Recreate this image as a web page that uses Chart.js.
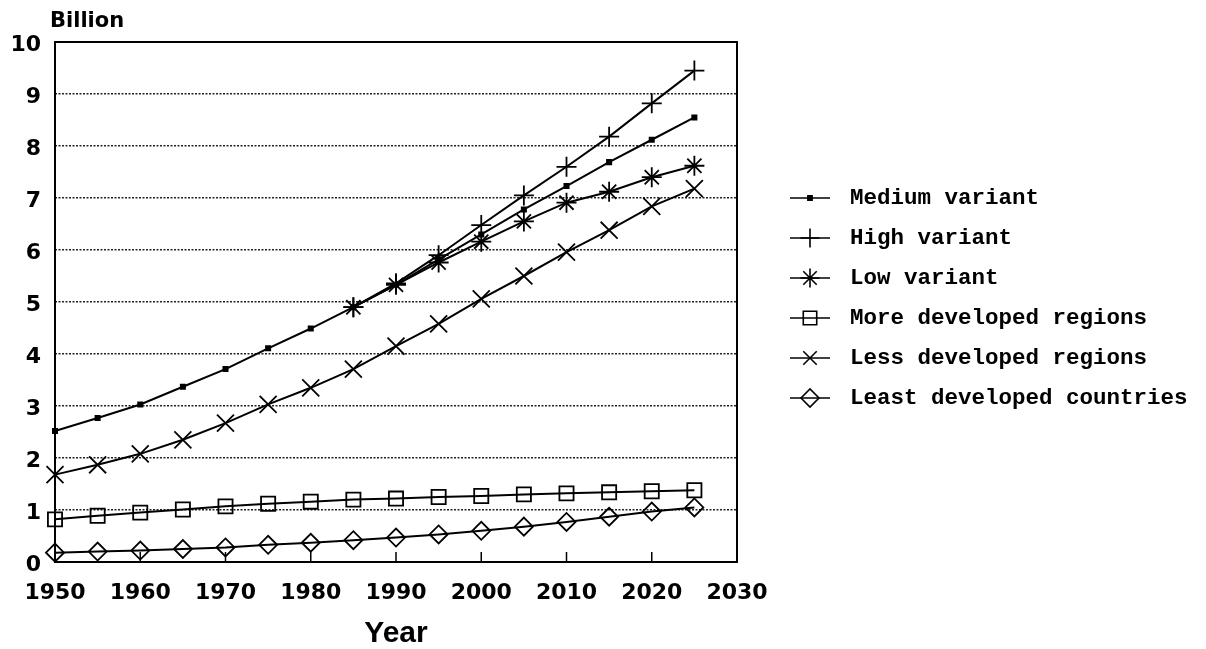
<!DOCTYPE html>
<html lang="en">
<head>
<meta charset="utf-8"/>
<title>World population projections</title>
<script src="https://cdn.jsdelivr.net/npm/chart.js"></script>
<style>
  body { margin: 0; background: #fff; }
  canvas { display: block; }
</style>
</head>
<body>
<canvas id="pop-chart" width="1206" height="649"></canvas>
<script>
  // years on the x axis, 5-year steps
  const years = [1950, 1955, 1960, 1965, 1970, 1975, 1980, 1985, 1990, 1995, 2000, 2005, 2010, 2015, 2020, 2025];

  // billions
  const medium = [2.52, 2.77, 3.03, 3.37, 3.71, 4.11, 4.49, 4.90, 5.33, 5.82, 6.30, 6.78, 7.23, 7.69, 8.12, 8.55];
  const high   = [null, null, null, null, null, null, null, 4.90, 5.36, 5.90, 6.48, 7.05, 7.60, 8.18, 8.82, 9.45];
  const low    = [null, null, null, null, null, null, null, 4.90, 5.33, 5.76, 6.16, 6.55, 6.91, 7.12, 7.40, 7.62];
  const moreDev  = [0.82, 0.89, 0.95, 1.01, 1.07, 1.12, 1.16, 1.20, 1.22, 1.25, 1.27, 1.30, 1.32, 1.34, 1.36, 1.38];
  const lessDev  = [1.68, 1.87, 2.08, 2.35, 2.67, 3.03, 3.35, 3.71, 4.15, 4.58, 5.06, 5.50, 5.96, 6.38, 6.84, 7.18];
  const leastDev = [0.18, 0.20, 0.22, 0.25, 0.28, 0.33, 0.37, 0.42, 0.47, 0.53, 0.60, 0.68, 0.77, 0.87, 0.97, 1.05];

  const seriesNames = ['Medium variant', 'High variant', 'Low variant',
    'More developed regions', 'Less developed regions', 'Least developed countries'];

  const xTicks = [1950, 1960, 1970, 1980, 1990, 2000, 2010, 2020, 2030];
  const yTicks = [0, 1, 2, 3, 4, 5, 6, 7, 8, 9, 10];

  function pts(vals) {
    return years.map((y, i) => ({ x: y, y: vals[i] }));
  }

  function series(label, vals, style, radius, filled) {
    return {
      label: label,
      data: pts(vals),
      borderColor: '#000',
      borderWidth: 2,
      pointStyle: style,
      pointRadius: radius,
      pointBorderWidth: 1.8,
      pointBorderColor: '#000',
      pointBackgroundColor: filled ? '#000' : 'rgba(0,0,0,0)',
      tension: 0,
      clip: false
    };
  }

  const datasets = [
    series(seriesNames[0], medium, 'rect', 3, true),
    series(seriesNames[1], high, 'cross', 10, false),
    series(seriesNames[2], low, 'star', 10, false),
    series(seriesNames[3], moreDev, 'rect', 10, false),
    series(seriesNames[4], lessDev, 'crossRot', 12, false),
    series(seriesNames[5], leastDev, 'rectRot', 9, false)
  ];

  // box round the plot, short inward ticks on the x axis, title, legend
  const framePlugin = {
    id: 'frame',
    beforeDatasetsDraw(chart) {
      const { ctx, chartArea: a, scales } = chart;
      ctx.save();
      ctx.strokeStyle = '#000';
      ctx.lineWidth = 2;
      ctx.strokeRect(a.left, a.top, a.right - a.left, a.bottom - a.top);
      ctx.lineWidth = 1.5;
      xTicks.slice(1, -1).forEach(v => {
        const px = scales.x.getPixelForValue(v);
        ctx.beginPath();
        ctx.moveTo(px, a.bottom);
        ctx.lineTo(px, a.bottom - 10);
        ctx.stroke();
      });
      ctx.restore();
    },
    afterDraw(chart) {
      const { ctx, chartArea: a } = chart;
      ctx.save();
      ctx.fillStyle = '#000';
      ctx.font = 'bold 21px "DejaVu Sans"';
      ctx.textBaseline = 'middle';
      ctx.textAlign = 'left';
      ctx.fillText('Billion', a.left - 5, a.top - 20);

      ctx.font = 'bold 22.5px "Liberation Mono"';
      chart.data.datasets.forEach((ds, i) => {
        const y = a.top + 156 + 40 * i;
        const x0 = a.right + 53;
        ctx.strokeStyle = '#000';
        ctx.lineWidth = 1.5;
        ctx.beginPath();
        ctx.moveTo(x0, y);
        ctx.lineTo(x0 + 40, y);
        ctx.stroke();
        ctx.fillStyle = ds.pointBackgroundColor;
        ctx.lineWidth = 1.6;
        Chart.helpers.drawPoint(ctx, {
          pointStyle: ds.pointStyle,
          radius: Math.min(ds.pointRadius, 9.5),
          rotation: 0,
          borderWidth: 1.6
        }, x0 + 20, y);
        ctx.fillStyle = '#000';
        ctx.fillText(ds.label, a.right + 113, y);
      });
      ctx.restore();
    }
  };

  new Chart(document.getElementById('pop-chart'), {
    type: 'line',
    data: { datasets: datasets },
    plugins: [framePlugin],
    options: {
      responsive: false,
      animation: false,
      layout: { padding: { top: 42, right: 469, left: 0, bottom: 0 } },
      plugins: { legend: { display: false }, tooltip: { enabled: false } },
      scales: {
        x: {
          type: 'linear',
          min: 1950,
          max: 2030,
          afterFit: s => { s.height = 87; },
          afterBuildTicks: s => { s.ticks = xTicks.map(v => ({ value: v })); },
          grid: { display: false, drawTicks: false },
          border: { display: false },
          ticks: {
            color: '#000',
            padding: 18,
            maxRotation: 0,
            callback: v => String(v),
            font: { family: 'DejaVu Sans', weight: 'bold', size: 22 }
          },
          title: {
            display: true,
            text: 'Year',
            color: '#000',
            padding: { top: 0, bottom: 0 },
            font: { family: 'Liberation Sans', weight: 'bold', size: 30, lineHeight: 1 }
          }
        },
        y: {
          min: 0,
          max: 10,
          afterFit: s => { s.width = 55; },
          afterBuildTicks: s => { s.ticks = yTicks.map(v => ({ value: v })); },
          grid: { color: '#222', lineWidth: 1.6, drawTicks: false },
          border: { display: false, dash: [2, 1.5] },
          ticks: {
            color: '#000',
            padding: 14,
            labelOffset: 3,
            font: { family: 'DejaVu Sans', weight: 'bold', size: 22 }
          }
        }
      }
    }
  });
</script>
</body>
</html>
